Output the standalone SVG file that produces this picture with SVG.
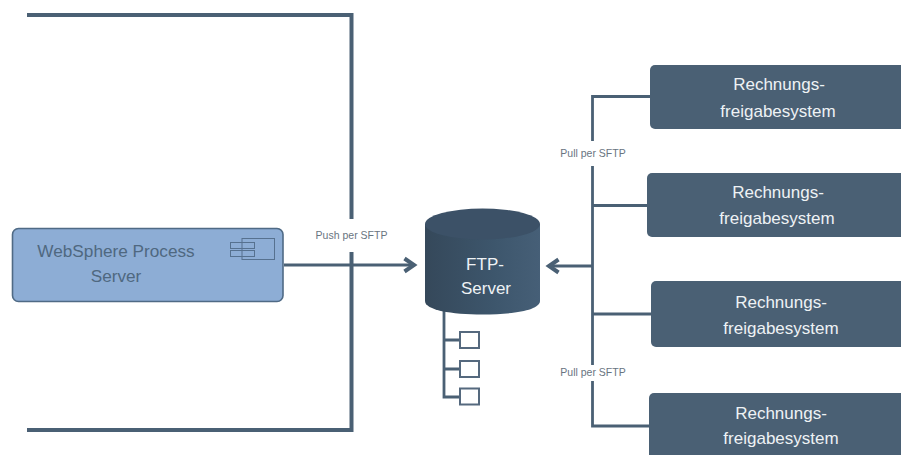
<svg xmlns="http://www.w3.org/2000/svg" width="901" height="455" viewBox="0 0 901 455">
<defs>
<linearGradient id="cyl" x1="0" x2="1" y1="0" y2="0"><stop offset="0" stop-color="#35485a"/><stop offset="0.6" stop-color="#3d566c"/><stop offset="1" stop-color="#465f77"/></linearGradient>
</defs>
<style>
text{font-family:"Liberation Sans",Arial,sans-serif;text-anchor:middle}
.sys rect{fill:#4a6074}
.sys text{fill:#eef2f5;font-size:17px}
.lbl{fill:#69747f;font-size:10.500px}
.c{fill:none;stroke:#4a6074;stroke-width:2.800}
.t{fill:none;stroke:#4a6074;stroke-width:4}
.a{fill:none;stroke:#4a6074;stroke-width:4}
.box{fill:#fff;stroke:#55697e;stroke-width:2}
</style>
<rect width="901" height="455" fill="#fff"/>
<g id="connectors">
<path class="t" d="M27 15H351.500V219M351.500 252V430H27"/>
<path class="c" d="M284 265H413"/>
<path class="a" d="M404.500 258.500L414 265L404.500 271.500"/>
<path class="c" d="M592.500 141V96.500H651M592.500 166V365M592.500 381V426H650M592.500 205.500H648M592.500 314H651M592.500 266H552"/>
<path class="a" d="M558.500 259.500L549 266L558.500 272.500"/>
<path class="c" d="M444 311V397H460M444 340H460M444 369H460"/>
</g>
<g id="websphere">
<rect x="12.500" y="228.500" width="270.500" height="73" rx="6" fill="#8dadd5" stroke="#4f6a85" stroke-width="1.600"/>
<text x="116" y="257" font-size="17.200" fill="#4f6880">WebSphere Process</text>
<text x="116" y="282" font-size="17.200" fill="#4f6880">Server</text>
<g fill="none" stroke="#56718f" stroke-width="1">
<rect x="242" y="238.500" width="32.500" height="21"/>
<rect x="230.500" y="242.500" width="24" height="6"/>
<rect x="230.500" y="250.500" width="24" height="6"/>
</g>
</g>
<g id="ftp-server">
<path d="M425 224V301C425 310 451 314.500 482.500 314.500C514 314.500 540 310 540 301V224Z" fill="url(#cyl)"/>
<ellipse cx="482.500" cy="224" rx="57.500" ry="15.500" fill="#3c5167"/>
<text x="485" y="270" font-size="17" fill="#eef2f5">FTP-</text>
<text x="486" y="294" font-size="17" fill="#eef2f5">Server</text>
</g>
<g id="file-tree">
<rect class="box" x="460" y="332" width="19" height="16"/>
<rect class="box" x="460" y="361" width="19" height="16"/>
<rect class="box" x="460" y="388.500" width="19" height="16"/>
</g>
<g id="sys1" class="sys"><rect x="650" y="65" width="260" height="64" rx="5"/><text x="779" y="90">Rechnungs-</text><text x="778" y="117">freigabesystem</text></g>
<g id="sys2" class="sys"><rect x="647" y="173" width="263" height="64" rx="5"/><text x="778" y="198">Rechnungs-</text><text x="777" y="224">freigabesystem</text></g>
<g id="sys3" class="sys"><rect x="651" y="281" width="259" height="66" rx="5"/><text x="781" y="308">Rechnungs-</text><text x="781" y="334">freigabesystem</text></g>
<g id="sys4" class="sys"><rect x="649" y="393" width="261" height="70" rx="5"/><text x="781" y="419">Rechnungs-</text><text x="781" y="444">freigabesystem</text></g>
<text class="lbl" x="351.500" y="239">Push per SFTP</text>
<text class="lbl" x="593" y="157">Pull per SFTP</text>
<text class="lbl" x="593" y="376">Pull per SFTP</text>
</svg>
